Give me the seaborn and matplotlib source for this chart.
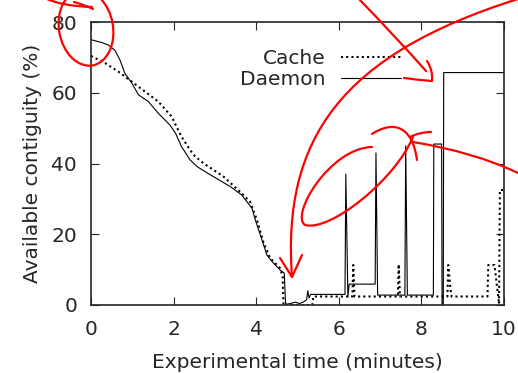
import matplotlib
matplotlib.use('Agg')
import matplotlib.pyplot as plt
import matplotlib.transforms as mtransforms
from matplotlib.path import Path
from matplotlib.patches import PathPatch, Ellipse
import pandas as pd
import seaborn as sns

# values
daemon_time = [0.0, 0.26, 0.42, 0.58, 0.70, 0.82, 0.99, 1.15, 1.39, 1.63, 1.91, 2.05,
               2.19, 2.40, 2.57, 2.89, 3.37, 3.65, 3.90, 3.98, 4.14, 4.26, 4.42, 4.58,
               4.68, 4.71, 4.74, 4.85, 4.95, 5.05, 5.15, 5.22, 5.25, 5.28, 5.32, 6.15,
               6.17, 6.22, 6.25, 6.88, 6.90, 6.94, 7.60, 7.62, 7.66, 8.29, 8.30, 8.49,
               8.50, 8.53, 8.54, 10.0]
daemon_contig = [75.0, 74.2, 73.5, 72.0, 69.3, 65.5, 62.7, 59.4, 57.5, 54.2, 50.9, 48.5,
                 44.8, 41.0, 39.1, 36.8, 33.5, 31.1, 27.3, 24.0, 18.4, 14.1, 11.8, 9.9,
                 9.0, 0.5, 0.2, 0.5, 0.8, 0.4, 0.9, 1.5, 4.0, 2.0, 3.0, 3.0,
                 37.0, 2.3, 5.9, 5.9, 43.0, 2.8, 2.8, 45.0, 2.8, 2.8, 45.5, 45.5,
                 0.2, 0.2, 65.7, 65.7]

cache_time = [0.0, 0.34, 0.66, 0.98, 1.31, 1.63, 1.95, 2.19, 2.40, 2.52, 2.73, 3.21,
              3.61, 3.85, 4.02, 4.18, 4.34, 4.58, 4.64, 4.66, 5.36, 5.38, 6.33, 6.35,
              6.38, 7.43, 7.45, 7.48, 8.63, 8.65, 8.67, 8.70, 8.73, 9.60, 9.62, 9.77,
              9.88, 9.90, 10.0]
cache_contig = [70.4, 68.4, 66.0, 63.2, 60.3, 57.5, 53.3, 47.6, 43.8, 42.0, 40.0, 36.3,
                32.0, 29.2, 24.0, 17.5, 13.2, 10.4, 8.0, 0.0, 0.0, 2.4, 2.4, 11.3,
                2.4, 2.4, 11.5, 2.4, 2.4, 11.3, 9.0, 5.0, 2.4, 2.4, 11.3, 11.3,
                0.3, 32.5, 32.5]

x_ticks = [0, 2, 4, 6, 8, 10]
y_ticks = [0, 20, 40, 60, 80]

sns.set_style('ticks')
plt.rcParams['font.family'] = ['DejaVu Sans']
plt.rcParams['font.size'] = 14.5

W, H = 518, 373
fig = plt.figure(figsize=(W / 100, H / 100), dpi=100)
ax = fig.add_axes([91 / W, 1 - 305 / H, (504 - 91) / W, (305 - 22) / H])

sns.lineplot(x=cache_time, y=cache_contig, ax=ax, color='black', linewidth=1.5,
             linestyle=(0, (1, 1.5)), label='Cache', sort=False, estimator=None)
sns.lineplot(x=daemon_time, y=daemon_contig, ax=ax, color='black', linewidth=0.8,
             label='Daemon', sort=False, estimator=None)

ax.set_xlim(0, 10)
ax.set_ylim(0, 80)
ax.set_xticks(x_ticks)
ax.set_yticks(y_ticks)
ax.tick_params(direction='in', top=True, right=True, length=6, width=0.8, labelsize=14.5)
ax.tick_params(axis='x', pad=11)
ax.tick_params(axis='y', pad=10)
for s in ax.spines.values():
    s.set_linewidth(1.2)
ax.set_xlabel('Experimental time (minutes)', labelpad=10)
ax.set_ylabel('Available contiguity (%)', labelpad=7)

ax.legend(loc='upper right', bbox_to_anchor=(0.776, 0.94), frameon=False,
          markerfirst=False, handlelength=3.0, handletextpad=0.75,
          labelspacing=0.1, fontsize=14.5, borderpad=0)

# red hand-drawn marks over the chart, in picture pixels (y down)
pix = mtransforms.Affine2D().scale(1, -1).translate(0, H)
red = dict(edgecolor='red', facecolor='none', linewidth=1.6, transform=pix,
           clip_on=False, zorder=10, capstyle='round', joinstyle='round')


def stroke(verts, codes):
    fig.add_artist(PathPatch(Path(verts, codes), **red))


M, L, C3, C4 = Path.MOVETO, Path.LINETO, Path.CURVE3, Path.CURVE4

stroke([(358, -2), (395, 36), (426, 71)], [M, C3, C3])
stroke([(427, 61), (433, 70), (432, 81), (418, 80), (404, 78)], [M, C3, C3, C3, C3])
stroke([(518, -1), (340, 55), (282, 140), (292, 277)], [M, C4, C4, C4])
stroke([(280, 258), (292, 277), (302, 255)], [M, L, L])
stroke([(372, 147), (330, 148), (290, 215), (305, 225), (330, 232), (395, 180), (413, 137)],
       [M, C4, C4, C4, C4, C4, C4])
stroke([(372, 134), (392, 121), (412, 124), (417, 160)], [M, C4, C4, C4])
stroke([(410, 137), (420, 132), (431, 132)], [M, C3, C3])
stroke([(518, 173), (474, 152), (413, 142)], [M, C3, C3])
stroke([(45, -2), (60, 6), (92, 7)], [M, C3, C3])
stroke([(74, 2), (85, 5), (93, 9)], [M, C3, C3])
fig.add_artist(Ellipse((86, 28), width=54, height=76, angle=-10, **red))

fig.savefig('out.png', dpi=100)
